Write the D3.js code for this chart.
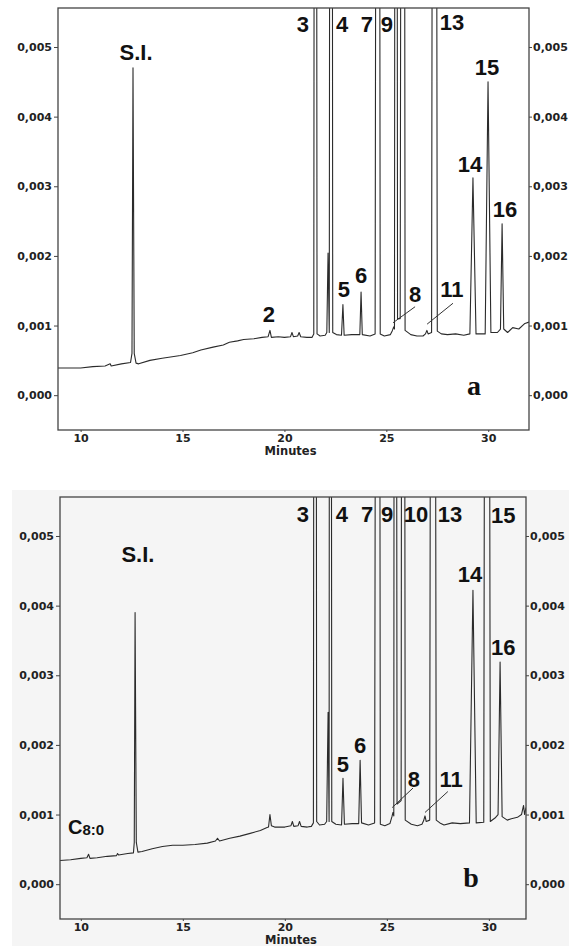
<!DOCTYPE html>
<html>
<head>
<meta charset="utf-8">
<script src="https://cdn.jsdelivr.net/npm/d3@7"></script>
<style>
body { margin: 0; background: #fff; }
.tick text { font-family: "DejaVu Sans", sans-serif; font-weight: bold; font-size: 11px; fill: #222; }
.tick line { stroke: #444; }
.domain { display: none; }
.peakLabel { font-family: "Liberation Sans", Arial, sans-serif; font-weight: bold; font-size: 22px; fill: #111; }
.panelLetter { font-family: "Liberation Serif", serif; font-weight: bold; font-size: 28px; fill: #111; }
.axisTitle { font-family: "DejaVu Sans", sans-serif; font-weight: bold; font-size: 11.5px; fill: #222; }
</style>
</head>
<body>
<svg id="chromChart" width="569" height="946"></svg>
<script>
var yTicks = [0, 0.001, 0.002, 0.003, 0.004, 0.005];
var xTicks = [10, 15, 20, 25, 30];

// chromatogram a: [minutes, absorbance]
var chromA = [
  [8.89,0.00039],[9.5,0.00039],[10.0,0.00039],[10.6,0.00041],[11.2,0.00042],[11.45,0.00045],[11.5,0.00042],
  [12.0,0.00045],[12.45,0.00047],[12.52,0.0006],[12.57,0.0047],[12.63,0.0006],[12.72,0.00046],[12.85,0.00045],
  [13.4,0.0005],[14.0,0.00053],[14.9,0.00057],[15.5,0.00061],[15.9,0.00065],[16.5,0.00069],[17.0,0.00072],
  [17.3,0.00076],[17.7,0.00078],[18.0,0.0008],[18.5,0.00081],[18.9,0.00083],[19.2,0.00084],[19.29,0.00093],
  [19.36,0.00083],[19.7,0.00084],[20.0,0.00083],[20.3,0.00084],[20.37,0.0009],[20.44,0.00084],[20.65,0.00085],
  [20.72,0.0009],[20.8,0.00084],[21.1,0.00083],[21.35,0.00083],[21.44,0.00088],[21.52,0.03],[21.6,0.00088],
  [21.75,0.00085],[22.0,0.00086],[22.08,0.0009],[22.14,0.00204],[22.2,0.0009],[22.29,0.03],[22.37,0.0009],
  [22.55,0.00087],[22.8,0.00086],[22.87,0.0013],[22.93,0.00086],[23.3,0.00087],[23.7,0.00087],[23.76,0.00148],
  [23.82,0.00087],[24.2,0.00085],[24.45,0.00088],[24.59,0.03],[24.7,0.00088],[24.9,0.00085],[25.2,0.00087],
  [25.3,0.00093],[25.36,0.00098],[25.4,0.00095],[25.47,0.03],[25.55,0.0011],[25.68,0.0011],[25.82,0.03],
  [25.92,0.00093],[26.2,0.00087],[26.5,0.00085],[26.8,0.00085],[26.92,0.00088],[26.99,0.00093],[27.05,0.00088],
  [27.22,0.0009],[27.36,0.03],[27.5,0.00092],[27.7,0.00088],[28.0,0.00087],[28.4,0.00088],[28.8,0.00086],
  [29.1,0.00088],[29.25,0.00312],[29.4,0.00088],[29.85,0.00088],[29.99,0.0045],[30.13,0.0009],[30.45,0.0009],
  [30.6,0.00095],[30.68,0.00246],[30.76,0.00095],[30.95,0.0009],[31.2,0.00097],[31.5,0.00095],[31.8,0.00103],
  [32.0,0.00105]
];

// chromatogram b
var chromB = [
  [8.98,0.00034],[9.5,0.00035],[10.0,0.00037],[10.3,0.00038],[10.38,0.00043],[10.45,0.00037],[10.8,0.00038],
  [11.3,0.0004],[11.75,0.00041],[11.8,0.00044],[11.85,0.00042],[12.3,0.00044],[12.58,0.00045],[12.62,0.0006],
  [12.66,0.0039],[12.72,0.0006],[12.8,0.00046],[13.0,0.00047],[13.5,0.00051],[14.0,0.00054],[14.5,0.00056],
  [15.0,0.00056],[15.6,0.00057],[16.2,0.00059],[16.6,0.00062],[16.7,0.00066],[16.8,0.00062],[17.3,0.00066],
  [17.8,0.00069],[18.3,0.00073],[18.8,0.00077],[19.1,0.00081],[19.2,0.00082],[19.27,0.001],[19.34,0.00084],
  [19.5,0.00082],[20.0,0.00082],[20.3,0.00084],[20.37,0.0009],[20.44,0.00083],[20.65,0.00084],[20.72,0.0009],
  [20.8,0.00083],[21.1,0.00082],[21.3,0.00083],[21.4,0.00088],[21.48,0.03],[21.56,0.0009],[21.7,0.00085],
  [21.95,0.00086],[22.05,0.0009],[22.12,0.00247],[22.17,0.0009],[22.22,0.03],[22.3,0.0009],[22.5,0.00086],
  [22.78,0.00085],[22.85,0.00152],[22.92,0.00086],[23.3,0.00087],[23.62,0.00087],[23.69,0.00178],[23.76,0.00088],
  [24.1,0.00085],[24.4,0.00088],[24.57,0.03],[24.68,0.00086],[24.9,0.00084],[25.15,0.00087],[25.25,0.00097],
  [25.3,0.00103],[25.34,0.00098],[25.4,0.03],[25.5,0.00115],[25.7,0.0012],[25.79,0.03],[25.9,0.00092],
  [26.2,0.00086],[26.5,0.00084],[26.72,0.00086],[26.8,0.00091],[26.87,0.00098],[26.93,0.0009],[27.1,0.00092],
  [27.26,0.03],[27.42,0.00092],[27.6,0.00088],[27.8,0.00085],[28.2,0.00088],[28.6,0.00087],[29.05,0.00088],
  [29.22,0.00422],[29.38,0.00088],[29.75,0.00089],[29.91,0.03],[30.07,0.0009],[30.3,0.00095],[30.45,0.001],
  [30.55,0.00319],[30.65,0.00097],[30.9,0.00092],[31.1,0.00094],[31.4,0.00096],[31.6,0.001],[31.7,0.00113],
  [31.75,0.001],[31.82,0.0011]
];

// peak labels: text, minutes, absorbance (baseline of text)
var labelsA = [
  ["S.I.",12.72,0.00481],["3",20.91,0.00522],["4",22.83,0.00522],["7",24.05,0.00522],["9",25.03,0.00522],
  ["13",28.22,0.00524],["15",29.94,0.0046],["14",29.11,0.0032],["16",30.82,0.00256],["5",22.92,0.00141],
  ["6",23.76,0.00161],["2",19.24,0.00105],["8",26.41,0.00134],["11",28.22,0.00141]
];
var labelsB = [
  ["S.I.",12.8,0.00462],["3",20.89,0.0052],["4",22.8,0.0052],["7",24.03,0.0052],["9",25.01,0.0052],
  ["10",26.43,0.0052],["13",28.1,0.0052],["15",30.7,0.00519],["14",29.08,0.00434],["16",30.7,0.00329],
  ["5",22.85,0.00161],["6",23.69,0.00189],["8",26.33,0.0014],["11",28.15,0.0014]
];
// leader lines: [t1, v1, t2, v2]
var leadersA = [[25.33,0.00104,26.41,0.00127],[27.0,0.00102,28.27,0.00132]];
var leadersB = [[25.26,0.0011,26.28,0.00138],[26.87,0.00103,27.99,0.00133]];

var panels = [
  {id: "a", top: 8, left: 58, right: 529, xDomain: [8.89, 32.0], data: chromA, labels: labelsA, leaders: leadersA, letter: ["a", 29.3, 0.0]},
  {id: "b", top: 497, left: 60, right: 526, xDomain: [8.98, 31.82], data: chromB, labels: labelsB, leaders: leadersB, letter: ["b", 29.13, -0.00004]}
];
var panelHeight = 422;
var yDomain = [-0.0005, 0.00556];

var svg = d3.select("#chromChart");
var commaFormat = d3.formatLocale({decimal: ",", thousands: ".", grouping: [3], currency: ["", ""]}).format(".3f");

// light grey scan background behind panel b
svg.append("rect")
    .attr("x", 12).attr("y", 490)
    .attr("width", 557).attr("height", 456)
    .attr("fill", "#f5f5f5");

panels.forEach(function(p) {
    var x = d3.scaleLinear().domain(p.xDomain).range([p.left, p.right]);
    var y = d3.scaleLinear().domain(yDomain).range([p.top + panelHeight, p.top]);
    var g = svg.append("g").attr("class", "panel-" + p.id);

    g.append("clipPath").attr("id", "clip-" + p.id)
        .append("rect")
        .attr("x", p.left).attr("y", p.top)
        .attr("width", p.right - p.left).attr("height", panelHeight);

    // left axis
    g.append("g")
        .attr("transform", "translate(" + p.left + ",0)")
        .call(d3.axisLeft(y).tickValues(yTicks).tickFormat(commaFormat).tickSize(4).tickPadding(2));

    // right axis
    g.append("g")
        .attr("transform", "translate(" + p.right + ",0)")
        .call(d3.axisRight(y).tickValues(yTicks).tickFormat(commaFormat).tickSize(3).tickPadding(1));

    // bottom axis
    g.append("g")
        .attr("transform", "translate(0," + (p.top + panelHeight) + ")")
        .call(d3.axisBottom(x).tickValues(xTicks).tickSize(2).tickPadding(2));

    g.append("text")
        .attr("class", "axisTitle")
        .attr("text-anchor", "middle")
        .attr("x", x(20.3))
        .attr("y", p.top + panelHeight + 25)
        .text("Minutes");

    // chromatogram trace
    g.append("path")
        .datum(p.data)
        .attr("clip-path", "url(#clip-" + p.id + ")")
        .attr("fill", "none")
        .attr("stroke", "#2b2b2b")
        .attr("stroke-width", 1.1)
        .attr("stroke-linejoin", "round")
        .attr("d", d3.line()
            .x(function(d) { return x(d[0]); })
            .y(function(d) { return y(d[1]); }));

    // frame
    g.append("rect")
        .attr("x", p.left).attr("y", p.top)
        .attr("width", p.right - p.left).attr("height", panelHeight)
        .attr("fill", "none")
        .attr("stroke", "#444")
        .attr("stroke-width", 1.3);

    g.selectAll(".leader")
        .data(p.leaders)
        .enter()
        .append("line")
        .attr("class", "leader")
        .attr("x1", function(d) { return x(d[0]); })
        .attr("y1", function(d) { return y(d[1]); })
        .attr("x2", function(d) { return x(d[2]); })
        .attr("y2", function(d) { return y(d[3]); })
        .attr("stroke", "#333")
        .attr("stroke-width", 1);

    g.selectAll(".peakLabel")
        .data(p.labels)
        .enter()
        .append("text")
        .attr("class", "peakLabel")
        .attr("text-anchor", "middle")
        .attr("x", function(d) { return x(d[1]); })
        .attr("y", function(d) { return y(d[2]); })
        .text(function(d) { return d[0]; });

    g.append("text")
        .attr("class", "panelLetter")
        .attr("text-anchor", "middle")
        .attr("x", x(p.letter[1]))
        .attr("y", y(p.letter[2]))
        .text(p.letter[0]);

    if (p.id === "b") {
        var c8 = g.append("text")
            .attr("class", "peakLabel")
            .attr("x", x(9.37))
            .attr("y", y(0.00072))
            .style("font-size", "20px");
        c8.append("tspan").text("C");
        c8.append("tspan").style("font-size", "15px").attr("dy", 1).text("8:0");
    }
});
</script>
</body>
</html>
